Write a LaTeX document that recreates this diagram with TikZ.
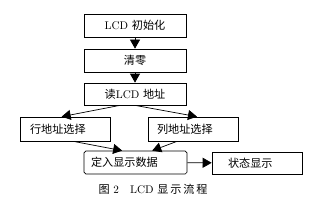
\documentclass[tikz,border=0pt]{standalone}
\usepackage{fontspec}
\newfontfamily\cjk{Noto Sans CJK SC}
\usetikzlibrary{arrows.meta}

\begin{document}
\begin{tikzpicture}[>={Triangle[length=2.7mm,width=3mm]},
  box/.style={draw, line width=0.6pt, minimum height=0.69cm, font=\fontsize{9.5}{11}\selectfont},
  mainbox/.style={box, minimum width=3.06cm},
  sidebox/.style={box, align=left, minimum height=0.72cm},
  flow/.style={->, line width=0.6pt}]

\useasboundingbox (0,0) rectangle (9.54,6.03);

% Main column
\node[mainbox] (init) at (4.05,5.265) {LCD {\cjk 初始化}};
\node[mainbox] (clear) at (4.05,4.215) {\cjk 清零};
\node[mainbox, minimum height=0.66cm] (readaddr) at (4.05,3.21) {{\cjk 读}LCD {\cjk 地址}};

% Row / column address
\node[sidebox, text width=2.1cm, inner xsep=0.3cm] (rowsel) at (1.95,2.16) {\cjk 行地址选择};
\node[sidebox, text width=2.16cm, inner xsep=0.27cm] (colsel) at (5.79,2.16) {\cjk 列地址选择};

% Write data and status
\node[sidebox, rounded corners=1.5pt, minimum height=0.69cm, text width=2.67cm, inner xsep=0.21cm] (writedata) at (4.065,1.155) {\cjk 定入显示数据};
\node[sidebox, minimum height=0.66cm, text width=1.74cm, inner xsep=0.48cm] (status) at (7.71,1.14) {\cjk 状态显示};

% Arrows
\draw[flow] (init) -- (clear);
\draw[flow] (clear) -- (readaddr);
\draw[flow] ([xshift=-0.45cm]readaddr.south) -- ([xshift=-0.1cm]rowsel.north);
\draw[flow] (readaddr.south) -- ([xshift=0.12cm]colsel.north);
\draw[flow] ([xshift=0.25cm]rowsel.south) -- ([xshift=-0.4cm]writedata.north);
\draw[flow] ([xshift=-0.48cm]colsel.south) -- ([xshift=0.5cm]writedata.north);
\draw[flow] (writedata) -- (status);

% Caption
\node[font=\fontsize{9.5}{11}\selectfont] (caption) at (4.59,0.36) {{\cjk 图} 2\quad LCD {\cjk 显\,示\,流\,程}};
\end{tikzpicture}
\end{document}
